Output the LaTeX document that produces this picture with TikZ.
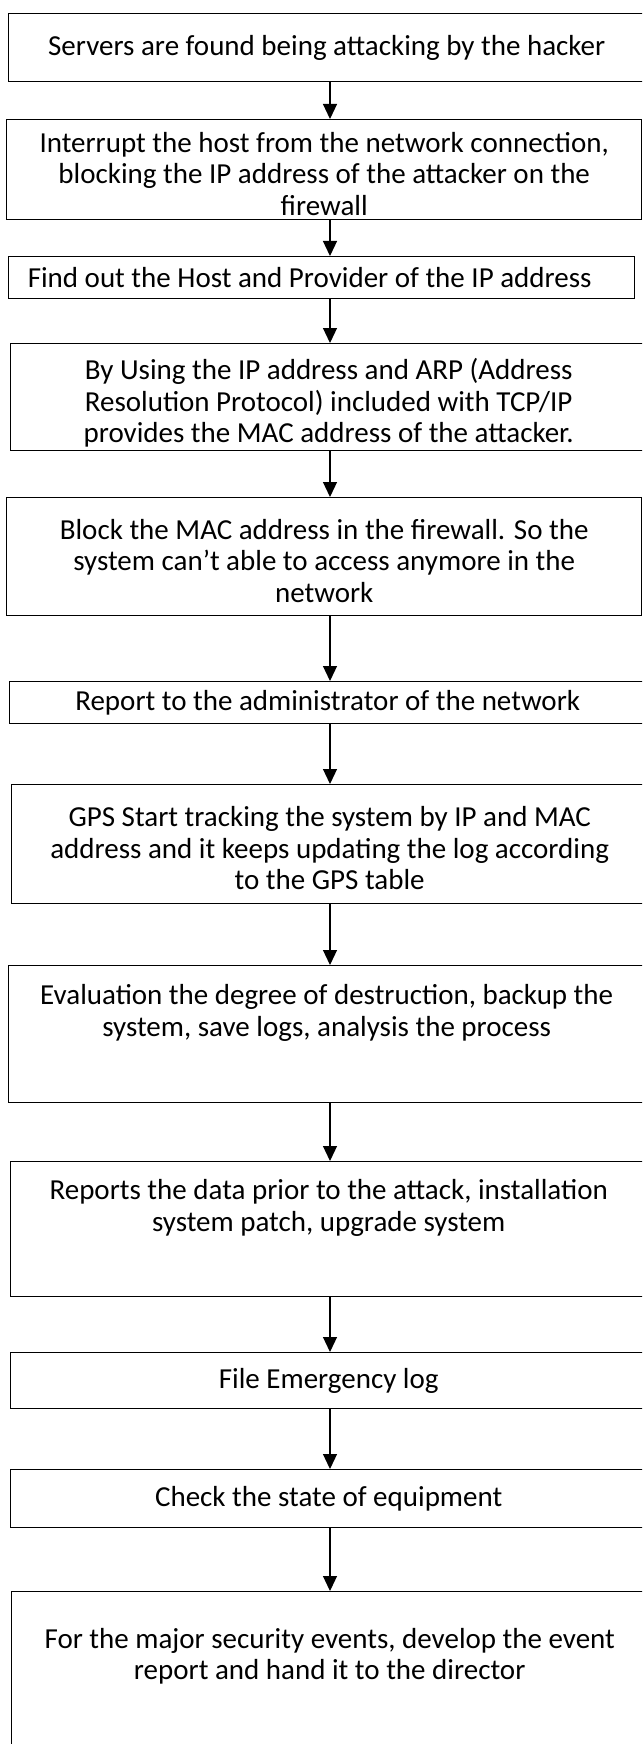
\documentclass[tikz,border=0pt]{standalone}
\usepackage{fontspec}
\setmainfont{Carlito}
\usetikzlibrary{arrows.meta}

\begin{document}
\begin{tikzpicture}[x=1pt, y=-1pt,
        stepbox/.style={draw, line width=1.4pt, anchor=north west, align=center,
            inner sep=0pt, minimum width=636pt, font=\fontsize{29}{31.5}\selectfont},
        threeline/.style={text height=95pt, text depth=4pt},
        twoline/.style={text height=50pt, text depth=46pt},
        flow/.style={-{Triangle[length=15pt, width=14pt]}, line width=1.2pt}]
        % ── frame ──────────────────────────
        \useasboundingbox (0,0) rectangle (642,1744);
        \clip (0,0) rectangle (642,1744);
        \coordinate (spine) at (330,0);
        % ── steps ──────────────────────────
        \node[stepbox, minimum height=68pt] (attack) at (8,13)
            {Servers are found being attacking by the hacker};
        \node[stepbox, threeline, minimum width=635pt, minimum height=100pt] (isolate) at (6,119)
            {Interrupt the host from the network connection,\\ blocking the IP address of the attacker on the\\ firewall};
        \node[stepbox, minimum width=626pt, minimum height=42pt] (provider) at (8,256)
            {Find out the Host and Provider of the IP address\hspace*{24pt}};
        \node[stepbox, threeline, minimum height=107pt] (arp) at (10,343)
            {By Using the IP address and ARP (Address\\ Resolution Protocol) included with TCP/IP\\ provides the MAC address of the attacker.};
        \node[stepbox, threeline, minimum width=635pt, minimum height=118pt] (blockmac) at (6,497)
            {Block the MAC address in the firewall. So the\\ system can’t able to access anymore in the\\ network};
        \node[stepbox, minimum height=42pt] (admin) at (9,681)
            {Report to the administrator of the network};
        \node[stepbox, threeline, minimum height=119pt] (gps) at (11,784)
            {GPS Start tracking the system by IP and MAC\\ address and it keeps updating the log according\\ to the GPS table};
        \node[stepbox, twoline, minimum height=137pt] (evaluate) at (8,965)
            {Evaluation the degree of destruction, backup the\\ system, save logs, analysis the process};
        \node[stepbox, twoline, minimum height=135pt] (patch) at (10,1161)
            {Reports the data prior to the attack, installation\\ system patch, upgrade system};
        \node[stepbox, minimum height=56pt] (emlog) at (10,1352)
            {File Emergency log};
        \node[stepbox, minimum height=58pt] (equipment) at (10,1469)
            {Check the state of equipment};
        \node[stepbox, text height=50pt, text depth=134pt, minimum height=260pt] (director) at (11,1591)
            {For the major security events, develop the event\\ report and hand it to the director};
        % ── arrows ─────────────────────────
        \foreach \a/\b in {attack/isolate, isolate/provider, provider/arp, arp/blockmac,
                blockmac/admin, admin/gps, gps/evaluate, evaluate/patch, patch/emlog,
                emlog/equipment, equipment/director}
            \draw[flow] (\a.south -| spine) -- (\b.north -| spine);
    \end{tikzpicture}
\end{document}
